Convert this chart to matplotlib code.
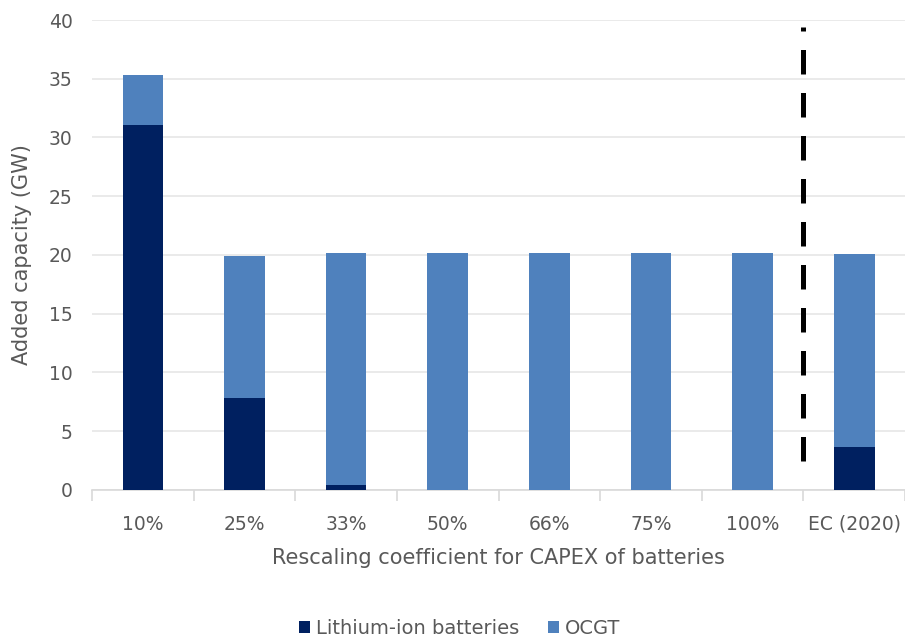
import matplotlib.pyplot as plt
import numpy as np

plt.rcParams["font.family"] = ["DejaVu Sans"]
plt.rcParams["font.size"] = 12

# data
categories = ["10%", "25%", "33%", "50%", "66%", "75%", "100%", "EC (2020)"]
lithium = [31.1, 7.8, 0.4, 0.0, 0.0, 0.0, 0.0, 3.7]
ocgt = [4.2, 12.1, 19.8, 20.2, 20.2, 20.2, 20.2, 16.4]

dark = "#002060"
light = "#4F81BD"
txt = "#595959"

fig = plt.figure(figsize=(9.05, 6.39), dpi=100)
ax = fig.add_axes([0.1017, 0.2332, 0.8983, 0.7355])

x = np.arange(len(categories))
ax.bar(x, lithium, width=0.4, color=dark, label="Lithium-ion batteries", zorder=3)
ax.bar(x, ocgt, width=0.4, bottom=lithium, color=light, label="OCGT", zorder=3)

# separator between scenarios and EC reference (drawn bottom-up)
ax.plot([6.5, 6.5], [2.5, 39.4], color="black", linestyle=(0, (4.9, 3.7)),
        linewidth=3.6, solid_capstyle="butt", dash_capstyle="butt", zorder=4)

ax.set_xlim(-0.5, len(categories) - 0.5)
ax.set_ylim(0, 40)
ax.set_yticks(range(0, 41, 5))
ax.yaxis.grid(True, color="#E6E6E6", linewidth=1.2, zorder=0)
ax.set_axisbelow(True)

ax.set_xticks(x)
ax.set_xticklabels(categories)
ax.set_xticks(np.arange(-0.5, len(categories)), minor=True)
ax.tick_params(axis="x", which="major", length=0, pad=18, colors=txt, labelsize=13.5)
ax.tick_params(axis="x", which="minor", length=8, color="#D9D9D9", width=1.2)
ax.tick_params(axis="y", length=0, colors=txt, labelsize=13.5, pad=14)

for s in ["top", "right", "left"]:
    ax.spines[s].set_visible(False)
ax.spines["bottom"].set_color("#D9D9D9")
ax.spines["bottom"].set_linewidth(1.2)

ax.set_ylabel("Added capacity (GW)", color=txt, fontsize=15, labelpad=12)
ax.set_xlabel("Rescaling coefficient for CAPEX of batteries", color=txt, fontsize=15, labelpad=10)

leg = fig.legend(loc="lower center", bbox_to_anchor=(0.508, -0.026), ncol=2, frameon=False,
                 fontsize=14, handlelength=0.55, handleheight=0.55, handletextpad=0.3,
                 columnspacing=1.5)
for t in leg.get_texts():
    t.set_color(txt)

fig.savefig("out.png", dpi=100)
